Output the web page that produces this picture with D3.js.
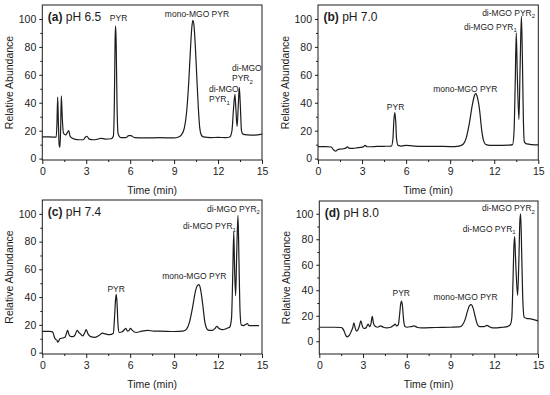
<!DOCTYPE html>
<html>
<head>
<meta charset="utf-8">
<script src="https://cdn.jsdelivr.net/npm/d3@7"></script>
<style>
  body { margin: 0; background: #fff; }
  svg { display: block; font-family: Arial, "Liberation Sans", sans-serif; }
</style>
</head>
<body>
<script>
// panel titles
var panelTags = ["(a)", "(b)", "(c)", "(d)"]
var panelPH = ["pH 6.5", "pH 7.0", "pH 7.4", "pH 8.0"]

var xTicks = [0, 3, 6, 9, 12, 15]
var xMinor = [1.5, 4.5, 7.5, 10.5, 13.5]
var yTicks = [0, 20, 40, 60, 80, 100]
var yMinor = [10, 30, 50, 70, 90]

// chromatograms, [time (min), relative abundance]
var traceA = [[0,15.5],[0.5,15.5],[0.95,15.4],[1.0,25],[1.05,44],[1.1,25],[1.15,10],[1.2,8],[1.25,20],[1.3,45],[1.36,30],
  [1.45,18],[1.6,17],[1.7,18.5],[1.8,20],[1.9,16],[2.0,15],[2.2,14],[2.5,13.5],[2.8,13.5],[2.95,15.5],[3.05,16],[3.2,14],
  [3.5,13.5],[3.8,14],[4.0,14.5],[4.3,14],[4.7,14.2],[4.85,16],[4.92,40],[4.97,85],[5.0,95],[5.04,85],[5.1,40],[5.17,18],
  [5.25,16],[5.4,15],[5.7,15],[5.9,16.5],[6.05,16.5],[6.3,15],[7,14.8],[8,15],[9,14.8],[9.3,15.5],[9.5,17],[9.7,22],
  [9.85,33],[10.0,55],[10.1,75],[10.2,93],[10.28,99],[10.36,95],[10.45,80],[10.55,58],[10.65,37],[10.75,22],[10.85,17],
  [11.0,15.5],[11.5,15],[12,15.2],[12.5,15],[12.8,15.5],[12.95,20],[13.05,35],[13.15,46],[13.22,35],[13.3,23],[13.38,38],
  [13.45,51],[13.52,38],[13.6,20],[13.7,17.5],[14,17],[14.5,16.8],[15,17.5]]

var traceB = [[0,8.6],[0.5,8.6],[0.9,8.3],[1.0,7],[1.1,6],[1.2,5.3],[1.35,6.5],[1.5,6.8],[1.7,7],[1.9,7.5],[2.0,8.5],
  [2.1,7.5],[2.4,7.3],[2.7,7.8],[2.9,8],[3.1,8.5],[3.2,9.5],[3.35,8.5],[3.6,8.5],[4,8.7],[4.5,8.8],[5.0,9],[5.1,14],
  [5.17,28],[5.23,33],[5.29,27],[5.35,14],[5.45,9.5],[5.7,9],[6.0,9.5],[6.3,9.3],[6.6,9],[7,8.8],[8,8.8],[9,8.6],[9.6,9],
  [9.9,10.5],[10.1,15],[10.3,25],[10.5,38],[10.65,45],[10.75,46.5],[10.85,44],[11.0,35],[11.15,20],[11.3,12],[11.45,10],
  [11.7,9.5],[12,9.5],[12.5,9.5],[13,9.6],[13.25,10],[13.35,20],[13.43,55],[13.5,90],[13.57,60],[13.68,28],[13.76,65],
  [13.85,102],[13.92,70],[13.98,30],[14.05,12],[14.2,10.5],[14.6,10],[15,9.8]]

var traceC = [[0,15.3],[0.5,15.3],[0.7,15],[0.8,12],[0.9,9.5],[1.0,9],[1.05,7.5],[1.1,8],[1.2,10],[1.4,10.5],[1.55,11],
  [1.65,14],[1.73,16],[1.82,13],[1.95,11.5],[2.1,11.5],[2.25,13],[2.38,16],[2.5,14.5],[2.6,13.5],[2.75,12],[2.88,14],
  [3.0,16.5],[3.12,13.5],[3.3,11.5],[3.6,11],[3.9,12.5],[4.1,14],[4.3,13.5],[4.6,13],[4.85,14],[4.93,25],[5.0,38],
  [5.05,42],[5.1,36],[5.17,20],[5.25,14.5],[5.45,15],[5.6,16.5],[5.7,17.5],[5.82,15.5],[5.92,16],[6.02,17.5],[6.15,16],
  [6.4,14.5],[6.8,15.5],[7.2,16],[7.6,15.5],[8,15.5],[9,15.2],[9.6,15.5],[9.85,17],[10.05,22],[10.25,32],[10.45,44],
  [10.6,48.5],[10.7,49],[10.8,46],[10.95,35],[11.1,22],[11.25,17],[11.4,16],[11.6,16],[11.8,17.5],[11.92,19],[12.05,17.5],
  [12.3,16.5],[12.6,17.5],[12.8,18.5],[12.92,25],[13.0,55],[13.07,87],[13.13,60],[13.2,41],[13.27,70],[13.36,99],
  [13.43,65],[13.5,30],[13.58,20],[13.75,19.5],[13.9,20.5],[14.0,21],[14.1,19.5],[14.4,19.5],[14.8,19.5]]

var traceD = [[0,11],[0.5,11],[1.0,11],[1.5,10.8],[1.6,10],[1.7,8],[1.8,5],[1.9,3.5],[2.05,4.5],[2.2,8],[2.3,11],
  [2.37,14.5],[2.45,11],[2.55,8],[2.65,9],[2.75,12],[2.85,16],[2.95,12],[3.05,10],[3.2,10.5],[3.35,13.5],[3.45,11.5],
  [3.55,14],[3.63,19.5],[3.72,14],[3.85,11.5],[4.0,11],[4.2,12],[4.4,11],[4.6,10.5],[4.9,11],[5.1,12.5],[5.2,13.5],
  [5.3,12],[5.42,13],[5.5,20],[5.58,29],[5.64,31.5],[5.7,28],[5.78,17],[5.88,11.5],[6.0,11],[6.3,11.5],[6.5,12],
  [6.7,11],[7,10.5],[8,10.8],[9,11],[9.6,11.2],[9.8,12.5],[10.0,17],[10.15,23],[10.3,28],[10.42,28.7],[10.55,26],
  [10.7,19],[10.85,13],[11.0,11.5],[11.3,11.5],[11.5,12.5],[11.65,11.5],[11.9,10.5],[12.2,10.5],[12.6,11],[12.9,11.5],
  [13.1,13],[13.2,18],[13.28,45],[13.35,75],[13.4,82],[13.46,65],[13.6,36],[13.68,60],[13.76,95],[13.81,100],
  [13.88,70],[13.95,35],[14.05,19],[14.2,18],[14.5,17.5],[15,16]]

// peak labels, anchored in data units (t, v)
var peaksA = [
  {lines: ["PYR"], t: 5.21, v: 98.2, anchor: "middle"},
  {lines: ["mono-MGO PYR"], t: 10.56, v: 101.4, anchor: "middle"},
  {lines: ["di-MGO", "PYR"], sub: "1", t: 11.38, v: 47.8, anchor: "start"},
  {lines: ["di-MGO", "PYR"], sub: "2", t: 12.95, v: 62.6, anchor: "start"}
]
var peaksB = [
  {lines: ["PYR"], t: 5.28, v: 34.9, anchor: "middle"},
  {lines: ["mono-MGO PYR"], t: 10.03, v: 47.5, anchor: "middle"},
  {lines: ["di-MGO PYR"], sub: "1", t: 13.54, v: 92.4, anchor: "end"},
  {lines: ["di-MGO PYR"], sub: "2", t: 14.78, v: 102.2, anchor: "end"}
]
var peaksC = [
  {lines: ["PYR"], t: 5.04, v: 43.5, anchor: "middle"},
  {lines: ["mono-MGO PYR"], t: 10.38, v: 52.9, anchor: "middle"},
  {lines: ["di-MGO PYR"], sub: "1", t: 13.22, v: 88.8, anchor: "end"},
  {lines: ["di-MGO PYR"], sub: "2", t: 14.86, v: 101.4, anchor: "end"}
]
var peaksD = [
  {lines: ["PYR"], t: 5.62, v: 35.5, anchor: "middle"},
  {lines: ["mono-MGO PYR"], t: 10.03, v: 32, anchor: "middle"},
  {lines: ["di-MGO PYR"], sub: "1", t: 13.47, v: 85.7, anchor: "end"},
  {lines: ["di-MGO PYR"], sub: "2", t: 14.79, v: 101.8, anchor: "end"}
]

var traces = [traceA, traceB, traceC, traceD]
var peaks = [peaksA, peaksB, peaksC, peaksD]
var yLow = [-1, -1, -1, -10]

// layout of the four plot boxes (pixels)
var frames = [
  {left: 42.3, right: 262, top: 5, bottom: 160},
  {left: 318, right: 538.3, top: 5, bottom: 160},
  {left: 42.3, right: 262, top: 200, bottom: 354},
  {left: 319.3, right: 538, top: 201, bottom: 354}
]

var ink = "#1c1c1c"

var svg = d3.select("body").append("svg")
  .attr("width", 550)
  .attr("height", 395)

frames.forEach(function (f, i) {
  var x = d3.scaleLinear().domain([0, 15]).range([f.left, f.right])
  var y = d3.scaleLinear().domain([yLow[i], 110]).range([f.bottom, f.top])
  var g = svg.append("g")

  // major + minor ticks
  g.append("g").attr("transform", "translate(0," + f.bottom + ")")
    .call(d3.axisBottom(x).tickValues(xTicks).tickSize(4).tickPadding(4).tickFormat(d3.format("d")))
  g.append("g").attr("transform", "translate(0," + f.bottom + ")")
    .call(d3.axisBottom(x).tickValues(xMinor).tickSize(2).tickFormat(""))
  g.append("g").attr("transform", "translate(" + f.left + ",0)")
    .call(d3.axisLeft(y).tickValues(yTicks).tickSize(3).tickPadding(3).tickFormat(d3.format("d")))
  g.append("g").attr("transform", "translate(" + f.left + ",0)")
    .call(d3.axisLeft(y).tickValues(yMinor).tickSize(2).tickFormat(""))

  g.selectAll(".domain").remove()
  g.selectAll(".tick line").attr("stroke", ink)
  g.selectAll(".tick text").attr("fill", ink).style("font-size", "10.5px").style("font-family", "Arial, 'Liberation Sans', sans-serif")

  // frame
  g.append("rect")
    .attr("x", f.left).attr("y", f.top)
    .attr("width", f.right - f.left).attr("height", f.bottom - f.top)
    .attr("fill", "none").attr("stroke", ink).attr("stroke-width", 1)

  // trace
  var line = d3.line()
    .x(function (d) { return x(d[0]) })
    .y(function (d) { return y(d[1]) })
    .curve(d3.curveMonotoneX)
  g.append("path")
    .datum(traces[i])
    .attr("d", line)
    .attr("fill", "none")
    .attr("stroke", ink)
    .attr("stroke-width", 1.2)

  // axis titles
  g.append("text")
    .attr("x", (f.left + f.right) / 2)
    .attr("y", f.bottom + 34)
    .attr("text-anchor", "middle")
    .attr("fill", ink)
    .style("font-size", "10.5px")
    .text("Time (min)")
  g.append("text")
    .attr("transform", "translate(" + (f.left - 29) + "," + ((f.top + f.bottom) / 2) + ") rotate(-90)")
    .attr("text-anchor", "middle")
    .attr("fill", ink)
    .style("font-size", "10.5px")
    .text("Relative Abundance")

  // panel tag
  var tag = g.append("text")
    .attr("x", f.left + 5.5)
    .attr("y", f.top + 15.5)
    .attr("fill", ink)
    .style("font-size", "12px")
  tag.append("tspan").attr("font-weight", "bold").text(panelTags[i])
  tag.append("tspan").text(" " + panelPH[i])

  // peak labels
  peaks[i].forEach(function (p) {
    var t = g.append("text")
      .attr("x", x(p.t))
      .attr("y", y(p.v))
      .attr("text-anchor", p.anchor)
      .attr("fill", ink)
      .style("font-size", "8.5px")
    p.lines.forEach(function (s, k) {
      var ts = t.append("tspan").text(s)
      if (k > 0) ts.attr("x", x(p.t)).attr("dy", "1.2em")
    })
    if (p.sub) {
      t.append("tspan").attr("dy", 2.5).style("font-size", "6px").text(p.sub)
    }
  })
})
</script>
</body>
</html>
